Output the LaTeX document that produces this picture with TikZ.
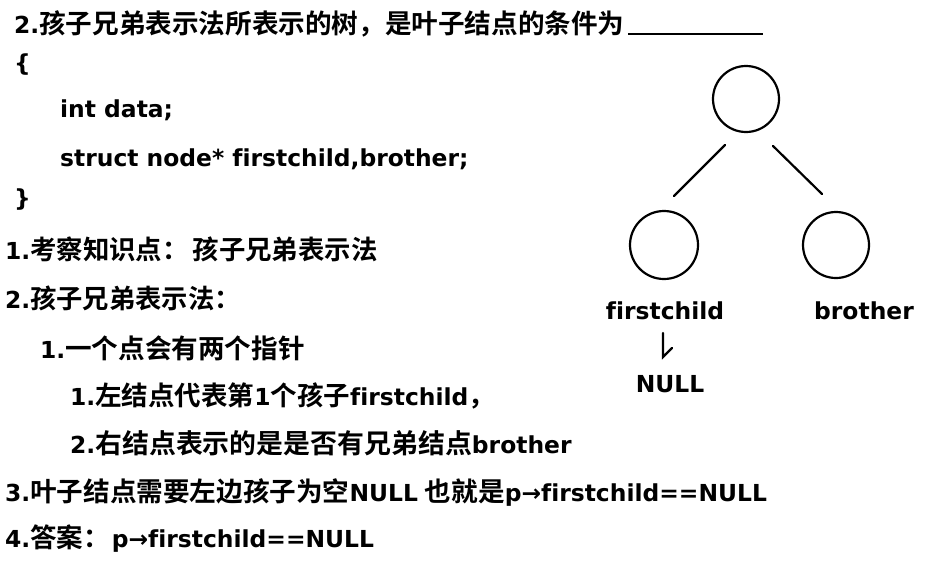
\documentclass[tikz,border=0pt]{standalone}
\usepackage{fontspec}
\setmainfont{DejaVu Sans}[Ligatures=NoCommon]
\newfontfamily\cjk{Noto Sans CJK SC}[BoldFont=* Bold]
\newcommand\cjksize{26.5pt}
\newcommand\zh[1]{{\fontsize{\cjksize}{28pt}\cjk\bfseries #1}}
\newcommand\cs[1]{\renewcommand\cjksize{#1}}
\usetikzlibrary{calc}
\begin{document}
\begin{tikzpicture}[x=1pt,y=-1pt,
  txt/.style={anchor=base west,inner sep=0pt,font=\fontsize{23.4pt}{28pt}\selectfont\bfseries},
  lbl/.style={anchor=center,inner sep=0pt,font=\fontsize{23.4pt}{28pt}\selectfont\bfseries},
  tnode/.style={circle,draw,line width=2.2pt,inner sep=0pt},
  edge/.style={line width=2.2pt,line cap=round}]
\useasboundingbox (0,0) rectangle (925,562);
% left column
\node[txt] (t1) at (14,33) {\cs{26.6pt}2.\zh{孩子兄弟表示法所表示的树，是叶子结点的条件为}};
\coordinate (u1) at (628,34);
\coordinate (u2) at (763,34);
\draw[line width=2pt] (u1) -- (u2);
\node[txt] (t2) at (14,71) {\{};
\node[txt] (t3) at (60,117) {int data;};
\node[txt] (t4) at (60,166) {struct node* firstchild,brother;};
\node[txt] (t5) at (14,206) {\}};
\node[txt] (t6) at (5,259) {\cs{26.4pt}1.\zh{考察知识点：}\hspace{4pt}\zh{孩子兄弟表示法}};
\node[txt] (t7) at (5,308) {\cs{26.3pt}2.\zh{孩子兄弟表示法：}};
\node[txt] (t8) at (40,358) {\cs{26.6pt}1.\zh{一个点会有两个指针}};
\node[txt] (t9) at (70,405) {\cs{26.5pt}1.\zh{左结点代表第}1\zh{个孩子}firstchild\zh{，}};
\node[txt] (t10) at (70,453) {\cs{26.9pt}2.\zh{右结点表示的是是否有兄弟结点}brother};
\node[txt] (t11) at (5,501) {\cs{26.6pt}3.\zh{叶子结点需要左边孩子为空}NULL\hspace{7pt}\zh{也就是}p→firstchild==NULL};
\node[txt] (t12) at (5,547) {\cs{26.5pt}4.\zh{答案：}\hspace{2pt}p→firstchild==NULL};
% tree
\node[tnode,minimum size=66pt] (root) at (746,99) {};
\node[tnode,minimum size=68pt] (lc) at (664,245) {};
\node[tnode,minimum size=66pt] (rc) at (836,245) {};
\coordinate (a1) at ($(root)+(-21,46)$);
\coordinate (a2) at ($(lc)+(10,-49)$);
\coordinate (b1) at ($(root)+(27,47)$);
\coordinate (b2) at ($(rc)+(-14,-51)$);
\draw[edge] (a1) -- (a2);
\draw[edge] (b1) -- (b2);
\node[lbl] (fc) at (665,311) {firstchild};
\node[lbl] (br) at (864,311) {brother};
\node[lbl] (nl) at (670,384) {NULL};
\coordinate (p1) at ($(fc)+(-2,22)$);
\coordinate (p2) at ($(fc)+(-2,46)$);
\coordinate (p3) at ($(fc)+(7,37)$);
\draw[edge] (p1) -- (p2) -- (p3);
\end{tikzpicture}
\end{document}
